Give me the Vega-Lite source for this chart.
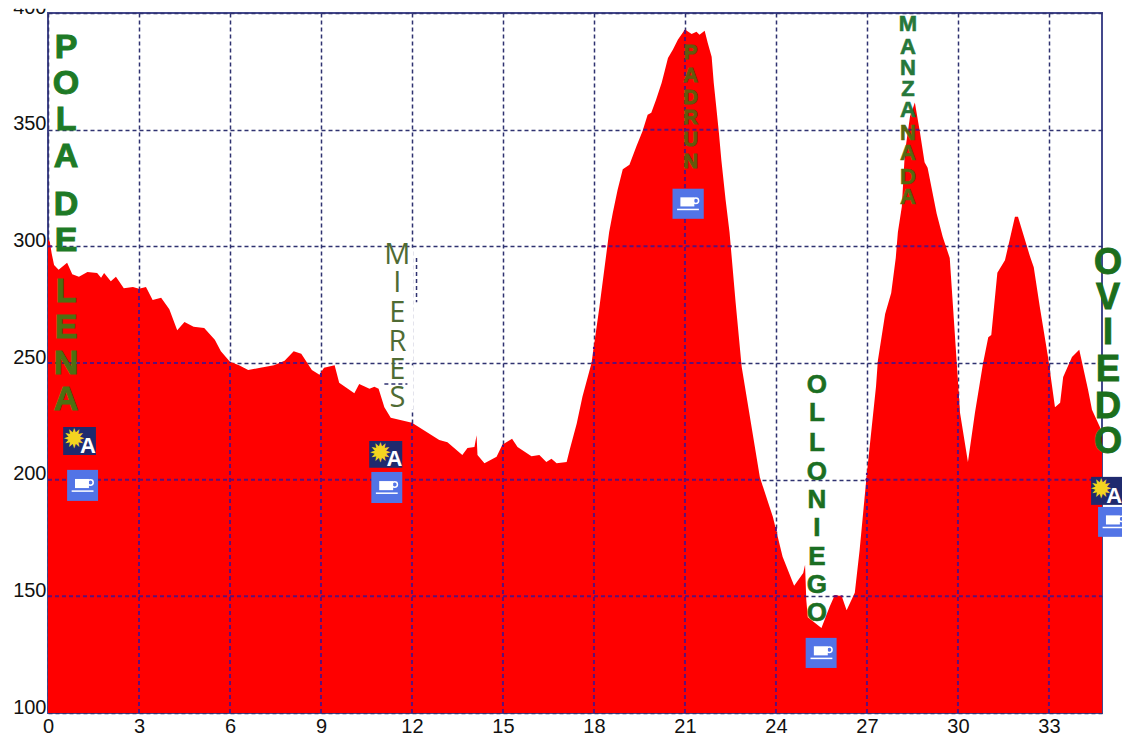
{"$schema":"https://vega.github.io/schema/vega-lite/v6.json","width":1054,"height":700,"autosize":"none","padding":{"left":48,"top":13,"right":20,"bottom":28},"background":"white","config":{"view":{"stroke":"#44488c","strokeWidth":2},"font":"Liberation Sans"},
"datasets":{
"profile":[{"km":0,"alt":303},{"km":0.06,"alt":302},{"km":0.12,"alt":297},{"km":0.2,"alt":292},{"km":0.35,"alt":290},{"km":0.63,"alt":293},{"km":0.8,"alt":288},{"km":1.02,"alt":287},{"km":1.3,"alt":289},{"km":1.62,"alt":288.6},{"km":1.75,"alt":286.5},{"km":1.85,"alt":288.6},{"km":2.07,"alt":285},{"km":2.24,"alt":287},{"km":2.5,"alt":282},{"km":2.8,"alt":282.6},{"km":3,"alt":281.8},{"km":3.23,"alt":282.6},{"km":3.45,"alt":277},{"km":3.73,"alt":278},{"km":4,"alt":273},{"km":4.26,"alt":264},{"km":4.5,"alt":267.6},{"km":4.8,"alt":265.5},{"km":5.15,"alt":265},{"km":5.5,"alt":260},{"km":5.7,"alt":255},{"km":6,"alt":250.5},{"km":6.3,"alt":249},{"km":6.6,"alt":247},{"km":7,"alt":248},{"km":7.45,"alt":249},{"km":7.8,"alt":251},{"km":8.1,"alt":255},{"km":8.35,"alt":254},{"km":8.7,"alt":247},{"km":8.95,"alt":245},{"km":9.1,"alt":248},{"km":9.45,"alt":249},{"km":9.6,"alt":241.5},{"km":10.1,"alt":237},{"km":10.26,"alt":241},{"km":10.6,"alt":239},{"km":10.76,"alt":239.8},{"km":10.9,"alt":239},{"km":11.09,"alt":231},{"km":11.3,"alt":226.5},{"km":12,"alt":224.4},{"km":12.9,"alt":217},{"km":13.17,"alt":216},{"km":13.66,"alt":210.6},{"km":13.83,"alt":213.6},{"km":14.06,"alt":214},{"km":14.13,"alt":219},{"km":14.16,"alt":210.6},{"km":14.39,"alt":207},{"km":14.79,"alt":209.8},{"km":14.98,"alt":215},{"km":15.3,"alt":217.5},{"km":15.48,"alt":214},{"km":15.94,"alt":210},{"km":16.2,"alt":210.6},{"km":16.43,"alt":207.6},{"km":16.6,"alt":209},{"km":16.77,"alt":207},{"km":17.1,"alt":207.6},{"km":17.2,"alt":212.8},{"km":17.43,"alt":224},{"km":17.62,"alt":235.5},{"km":17.92,"alt":250},{"km":18.18,"alt":274},{"km":18.5,"alt":306},{"km":18.62,"alt":314.3},{"km":18.78,"alt":324.3},{"km":18.95,"alt":333},{"km":19.17,"alt":335},{"km":19.4,"alt":342.9},{"km":19.6,"alt":349.3},{"km":19.77,"alt":356.4},{"km":19.89,"alt":357.3},{"km":20.05,"alt":362.9},{"km":20.23,"alt":370},{"km":20.33,"alt":375},{"km":20.44,"alt":380.7},{"km":20.6,"alt":384.3},{"km":20.77,"alt":388.6},{"km":21,"alt":392.9},{"km":21.22,"alt":391},{"km":21.38,"alt":392},{"km":21.48,"alt":390.7},{"km":21.65,"alt":392.4},{"km":21.75,"alt":387.3},{"km":21.88,"alt":381.3},{"km":21.95,"alt":370},{"km":22.03,"alt":360},{"km":22.12,"alt":348.6},{"km":22.2,"alt":337},{"km":22.34,"alt":320},{"km":22.47,"alt":306},{"km":22.67,"alt":276},{"km":22.87,"alt":248.4},{"km":23.47,"alt":201},{"km":23.9,"alt":184},{"km":24.22,"alt":167},{"km":24.6,"alt":154.5},{"km":24.9,"alt":160},{"km":24.96,"alt":163.5},{"km":25,"alt":148.5},{"km":25.05,"alt":141},{"km":25.5,"alt":136.4},{"km":25.77,"alt":145.5},{"km":25.94,"alt":150.6},{"km":26.17,"alt":150},{"km":26.33,"alt":144},{"km":26.6,"alt":151.5},{"km":26.76,"alt":170},{"km":27,"alt":203},{"km":27.3,"alt":240},{"km":27.36,"alt":251},{"km":27.6,"alt":271},{"km":27.8,"alt":280},{"km":27.95,"alt":295},{"km":28.02,"alt":306},{"km":28.15,"alt":317},{"km":28.25,"alt":340},{"km":28.42,"alt":355.6},{"km":28.58,"alt":361.6},{"km":28.75,"alt":348.7},{"km":28.9,"alt":336},{"km":29,"alt":333.7},{"km":29.3,"alt":314},{"km":29.5,"alt":304},{"km":29.73,"alt":295},{"km":29.9,"alt":262},{"km":30.07,"alt":228.6},{"km":30.33,"alt":207.6},{"km":30.56,"alt":228.6},{"km":30.83,"alt":250},{"km":31,"alt":261},{"km":31.1,"alt":262},{"km":31.3,"alt":288.7},{"km":31.55,"alt":294},{"km":31.88,"alt":312.7},{"km":31.98,"alt":312.7},{"km":32.38,"alt":295.5},{"km":32.5,"alt":291},{"km":32.7,"alt":274},{"km":32.97,"alt":252.6},{"km":33.2,"alt":231},{"km":33.37,"alt":233},{"km":33.47,"alt":244},{"km":33.76,"alt":252.6},{"km":34,"alt":255.7},{"km":34.29,"alt":238.5},{"km":34.42,"alt":230},{"km":34.68,"alt":222.6},{"km":34.75,"alt":220}],
"gridV":[{"km":3,"alt":100,"alt2":281.8},{"km":6,"alt":100,"alt2":250.5},{"km":9,"alt":100,"alt2":246},{"km":12,"alt":100,"alt2":224.4},{"km":15,"alt":100,"alt2":215},{"km":18,"alt":100,"alt2":257},{"km":21,"alt":100,"alt2":392.9},{"km":24,"alt":100,"alt2":180},{"km":27,"alt":100,"alt2":203},{"km":30,"alt":100,"alt2":238},{"km":33,"alt":100,"alt2":250}],
"gridH":[{"alt":150,"km":0,"km2":24.99},{"alt":150,"km":25.9,"km2":26.2},{"alt":150,"km":26.57,"km2":34.75},{"alt":200,"km":0,"km2":23.5},{"alt":200,"km":26.95,"km2":34.75},{"alt":250,"km":0,"km2":6},{"alt":250,"km":7.62,"km2":8.55},{"alt":250,"km":17.92,"km2":22.84},{"alt":250,"km":27.35,"km2":29.96},{"alt":250,"km":30.83,"km2":32.98},{"alt":250,"km":33.67,"km2":34.1},{"alt":300,"km":0,"km2":0.18},{"alt":300,"km":18.25,"km2":22.55},{"alt":300,"km":27.97,"km2":29.6},{"alt":300,"km":31.66,"km2":32.28},{"alt":350,"km":19.63,"km2":22.08},{"alt":350,"km":28.37,"km2":28.72}],
"erase":[{"km":12,"alt":299.4,"alt2":251},{"km":12,"alt":249,"alt2":230}],
"fragV":[{"km":12.15,"alt":295,"alt2":276}],
"fragH":[{"alt":241,"km":11.09,"km2":11.85}],
"mask":[{"km":-1.7,"km2":-0.05,"alt":401.8,"alt2":430}],
"blue":[{"km":0.63,"km2":1.65,"alt":204.2,"alt2":190.9},{"km":10.66,"km2":11.68,"alt":203.3,"alt2":190},{"km":20.59,"km2":21.62,"alt":324.7,"alt2":311.8},{"km":24.98,"km2":26,"alt":132.2,"alt2":119.3},{"km":34.62,"km2":35.64,"alt":188.3,"alt2":175.5}],
"navy":[{"km":0.5,"km2":1.58,"alt":222.6,"alt2":210.6},{"km":10.59,"km2":11.68,"alt":216.6,"alt2":205.1},{"km":34.39,"km2":35.41,"alt":201.2,"alt2":189.2}],
"cups":[{"km":0.89,"km2":1.35,"alt":200.3,"alt2":196.4},{"km":10.92,"km2":11.38,"alt":199.4,"alt2":195.5},{"km":20.85,"km2":21.31,"alt":321,"alt2":317.1},{"km":25.25,"km2":25.71,"alt":128.6,"alt2":124.7},{"km":34.88,"km2":35.34,"alt":184.7,"alt2":180.8}],
"handles":[{"km":1.4,"alt":198.8},{"km":11.43,"alt":197.9},{"km":21.36,"alt":319.5},{"km":25.76,"alt":127.1},{"km":35.39,"alt":183.2}],
"saucers":[{"km":0.78,"km2":1.5,"alt":195.1},{"km":10.81,"km2":11.53,"alt":194.2},{"km":20.74,"km2":21.46,"alt":315.8},{"km":25.14,"km2":25.86,"alt":123.4},{"km":34.77,"km2":35.49,"alt":179.5}],
"shells":[{"km":0.86,"alt":217,"ch":"✹"},{"km":10.96,"alt":211.2,"ch":"✹"},{"km":34.72,"alt":195.6,"ch":"✹"}],
"aMarks":[{"km":1.32,"alt":214.5,"ch":"A"},{"km":11.42,"alt":208.7,"ch":"A"},{"km":35.15,"alt":193.1,"ch":"A"}],
"letters":[{"word":"POLA","ch":"P","km":0.594,"alt":385.2},{"word":"POLA","ch":"O","km":0.594,"alt":369.7},{"word":"POLA","ch":"L","km":0.594,"alt":354.3},{"word":"POLA","ch":"A","km":0.594,"alt":338.4},{"word":"POLA","ch":"D","km":0.594,"alt":317.8},{"word":"POLA","ch":"E","km":0.594,"alt":302.4},{"word":"LENA","ch":"L","km":0.594,"alt":280.5},{"word":"LENA","ch":"E","km":0.594,"alt":265.1},{"word":"LENA","ch":"N","km":0.594,"alt":249.7},{"word":"LENA","ch":"A","km":0.594,"alt":234.2},
{"word":"MIERES","ch":"M","km":11.52,"alt":296.4},{"word":"MIERES","ch":"I","km":11.52,"alt":284.4},{"word":"MIERES","ch":"E","km":11.52,"alt":271.5},{"word":"MIERES","ch":"R","km":11.52,"alt":259.1},{"word":"MIERES","ch":"E","km":11.52,"alt":247.1},{"word":"MIERES","ch":"S","km":11.52,"alt":235.1},
{"word":"PADRUN","ch":"P","km":21.19,"alt":383},{"word":"PADRUN","ch":"A","km":21.19,"alt":373.2},{"word":"PADRUN","ch":"D","km":21.19,"alt":363.7},{"word":"PADRUN","ch":"R","km":21.19,"alt":355.1},{"word":"PADRUN","ch":"U","km":21.19,"alt":345.7},{"word":"PADRUN","ch":"N","km":21.19,"alt":336.3},
{"word":"MANZ","ch":"M","km":28.35,"alt":395.5},{"word":"MANZ","ch":"A","km":28.35,"alt":385.6},{"word":"MANZ","ch":"N","km":28.35,"alt":376.6},{"word":"MANZ","ch":"Z","km":28.35,"alt":367.6},{"word":"MANZ","ch":"A","km":28.35,"alt":358.6},{"word":"ANADA","ch":"N","km":28.35,"alt":348.7},{"word":"ANADA","ch":"A","km":28.35,"alt":340.1},{"word":"ANADA","ch":"D","km":28.35,"alt":329.8},{"word":"ANADA","ch":"A","km":28.35,"alt":321.3},
{"word":"OLLONIEGO","ch":"O","km":25.35,"alt":240.7},{"word":"OLLONIEGO","ch":"L","km":25.35,"alt":228.6},{"word":"OLLONIEGO","ch":"L","km":25.35,"alt":215.8},{"word":"OLLONIEGO","ch":"O","km":25.35,"alt":203.3},{"word":"OLLONIEGO","ch":"N","km":25.35,"alt":191.3},{"word":"OLLONIEGO","ch":"I","km":25.35,"alt":179.3},{"word":"OLLONIEGO","ch":"E","km":25.35,"alt":166.9},{"word":"OLLONIEGO","ch":"G","km":25.35,"alt":154.9},{"word":"OLLONIEGO","ch":"O","km":25.35,"alt":142.9},
{"word":"OVIEDO","ch":"O","km":34.95,"alt":293},{"word":"OVIEDO","ch":"V","km":34.95,"alt":278},{"word":"OVIEDO","ch":"I","km":34.95,"alt":263},{"word":"OVIEDO","ch":"E","km":34.95,"alt":247.1},{"word":"OVIEDO","ch":"D","km":34.95,"alt":231.2},{"word":"OVIEDO","ch":"O","km":34.95,"alt":216.2}]
},
"encoding":{
"x":{"field":"km","type":"quantitative","title":null,"scale":{"domain":[0,34.75],"nice":false,"zero":false},"axis":{"values":[0,3,6,9,12,15,18,21,24,27,30,33],"grid":true,"gridColor":"#2f3270","gridDash":[4,3],"gridWidth":1.5,"domain":false,"ticks":false,"labelFontSize":20,"labelColor":"#111111","labelPadding":3,"labelFont":"Liberation Sans","labelFlush":false,"labelOverlap":false,"zindex":0}},
"y":{"field":"alt","type":"quantitative","title":null,"scale":{"domain":[100,400],"nice":false,"zero":false},"axis":{"values":[100,150,200,250,300,350,400],"grid":true,"gridColor":"#2f3270","gridDash":[4,3],"gridWidth":1.5,"domain":false,"ticks":false,"labelFontSize":20,"labelColor":"#111111","labelPadding":2,"labelBaseline":"alphabetic","labelFont":"Liberation Sans","labelOverlap":false,"zindex":0}}
},
"layer":[
{"data":{"name":"profile"},"mark":{"type":"area","color":"#ff0000","interpolate":"linear"},"encoding":{"y2":{"datum":100}}},
{"data":{"name":"gridV"},"mark":{"type":"rule","color":"#5e1078","strokeWidth":2,"strokeDash":[4,3]},"encoding":{"y2":{"field":"alt2"}}},
{"data":{"name":"gridH"},"mark":{"type":"rule","color":"#5e1078","strokeWidth":2,"strokeDash":[4,3]},"encoding":{"x2":{"field":"km2"}}},
{"data":{"name":"erase"},"mark":{"type":"rule","color":"white","strokeWidth":3},"encoding":{"y2":{"field":"alt2"}}},
{"data":{"name":"fragV"},"mark":{"type":"rule","color":"#2f3270","strokeWidth":1.5,"strokeDash":[4,3]},"encoding":{"y2":{"field":"alt2"}}},
{"data":{"name":"fragH"},"mark":{"type":"rule","color":"#2f3270","strokeWidth":1.5,"strokeDash":[4,3]},"encoding":{"x2":{"field":"km2"}}},
{"data":{"name":"mask"},"mark":{"type":"rect","color":"white"},"encoding":{"x2":{"field":"km2"},"y2":{"field":"alt2"}}},
{"data":{"name":"blue"},"mark":{"type":"rect","color":"#5274e6"},"encoding":{"x2":{"field":"km2"},"y2":{"field":"alt2"}}},
{"data":{"name":"navy"},"mark":{"type":"rect","color":"#1f2a6e"},"encoding":{"x2":{"field":"km2"},"y2":{"field":"alt2"}}},
{"data":{"name":"cups"},"mark":{"type":"rect","color":"white"},"encoding":{"x2":{"field":"km2"},"y2":{"field":"alt2"}}},
{"data":{"name":"handles"},"mark":{"type":"point","filled":false,"color":"white","strokeWidth":1.5,"size":30,"opacity":1}},
{"data":{"name":"saucers"},"mark":{"type":"rule","color":"white","strokeWidth":1.5},"encoding":{"x2":{"field":"km2"}}},
{"data":{"name":"shells"},"mark":{"type":"text","color":"#f4d420","font":"DejaVu Sans","fontSize":27,"align":"center","baseline":"middle"},"encoding":{"text":{"field":"ch"}}},
{"data":{"name":"aMarks"},"mark":{"type":"text","color":"white","font":"Liberation Sans","fontWeight":"bold","fontSize":22,"align":"center","baseline":"middle"},"encoding":{"text":{"field":"ch"}}},
{"data":{"name":"letters"},"transform":[{"filter":"datum.word==='POLA'"}],"mark":{"type":"text","color":"#1e7a26","stroke":"#1e7a26","strokeWidth":1,"font":"Liberation Sans","fontWeight":"bold","fontSize":34,"align":"center","baseline":"middle"},"encoding":{"text":{"field":"ch"}}},
{"data":{"name":"letters"},"transform":[{"filter":"datum.word==='LENA'"}],"mark":{"type":"text","color":"#4c7012","stroke":"#4c7012","strokeWidth":1,"font":"Liberation Sans","fontWeight":"bold","fontSize":34,"align":"center","baseline":"middle"},"encoding":{"text":{"field":"ch"}}},
{"data":{"name":"letters"},"transform":[{"filter":"datum.word==='MIERES'"}],"mark":{"type":"text","color":"#4f6b34","font":"Open Sans","fontSize":29,"align":"center","baseline":"middle"},"encoding":{"text":{"field":"ch"}}},
{"data":{"name":"letters"},"transform":[{"filter":"datum.word==='PADRUN'"}],"mark":{"type":"text","color":"#625a0c","stroke":"#625a0c","strokeWidth":1,"font":"Liberation Sans","fontWeight":"bold","fontSize":20,"align":"center","baseline":"middle"},"encoding":{"text":{"field":"ch"}}},
{"data":{"name":"letters"},"transform":[{"filter":"datum.word==='MANZ'"}],"mark":{"type":"text","color":"#26773a","stroke":"#26773a","strokeWidth":0.6,"font":"Liberation Sans","fontWeight":"bold","fontSize":22,"align":"center","baseline":"middle"},"encoding":{"text":{"field":"ch"}}},
{"data":{"name":"letters"},"transform":[{"filter":"datum.word==='ANADA'"}],"mark":{"type":"text","color":"#56680f","stroke":"#56680f","strokeWidth":0.6,"font":"Liberation Sans","fontWeight":"bold","fontSize":22,"align":"center","baseline":"middle"},"encoding":{"text":{"field":"ch"}}},
{"data":{"name":"letters"},"transform":[{"filter":"datum.word==='OLLONIEGO'"}],"mark":{"type":"text","color":"#1b6e22","stroke":"#1b6e22","strokeWidth":0.6,"font":"Liberation Sans","fontWeight":"bold","fontSize":26,"align":"center","baseline":"middle"},"encoding":{"text":{"field":"ch"}}},
{"data":{"name":"letters"},"transform":[{"filter":"datum.word==='OVIEDO'"}],"mark":{"type":"text","color":"#1c6e1c","stroke":"#1c6e1c","strokeWidth":1,"font":"Liberation Sans","fontWeight":"bold","fontSize":36,"align":"center","baseline":"middle"},"encoding":{"text":{"field":"ch"}}}
]}
